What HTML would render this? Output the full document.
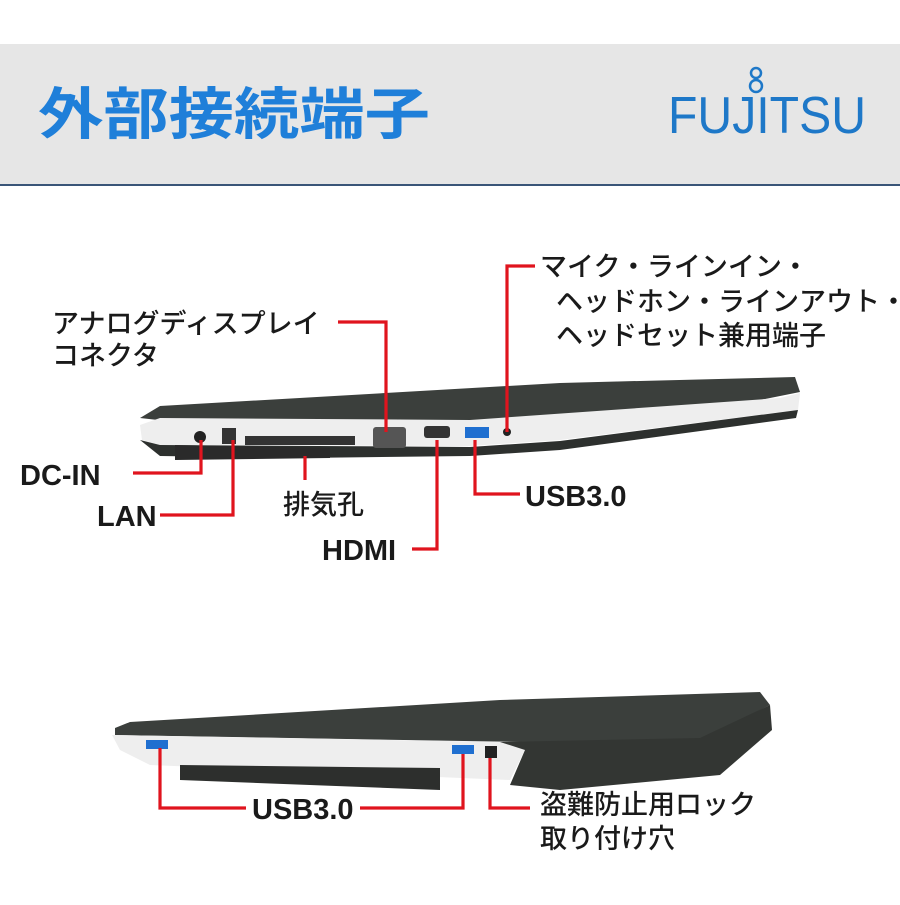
<!DOCTYPE html>
<html><head><meta charset="utf-8"><style>
body{margin:0;background:#fff;width:900px;height:900px;overflow:hidden;font-family:"Liberation Sans","Noto Sans CJK JP",sans-serif}
</style></head><body>
<svg width="900" height="900" viewBox="0 0 900 900" xmlns="http://www.w3.org/2000/svg" font-family="'Liberation Sans','Noto Sans CJK JP',sans-serif">
<rect x="0" y="44" width="900" height="141" fill="#e6e6e6"/>
<rect x="0" y="184" width="900" height="2" fill="#3a5578"/>
<text x="38" y="134" font-size="56" font-weight="bold" fill="#1f7fd9" textLength="392" lengthAdjust="spacingAndGlyphs">外部接続端子</text>
<text x="668" y="133" font-size="52" fill="#1e78c8" textLength="198" lengthAdjust="spacingAndGlyphs">FUJITSU</text>
<g fill="none" stroke="#1e78c8" stroke-width="2.5"><circle cx="756" cy="73" r="5"/><circle cx="756" cy="86" r="6"/></g>

<!-- top laptop -->
<polygon points="140,418 160,406 560,383 795,377 800,392 760,400 560,420 230,428" fill="#3b3f3c"/>
<polygon points="140,425 160,418 470,420 780,398 800,393 798,410 560,440 470,446 160,445 142,440" fill="#eeeeee"/>
<polygon points="140,440 160,445 470,447 560,441 798,410 796,418 560,450 470,456 300,458 160,456" fill="#2d302e"/>
<polygon points="175,445 330,448 330,458 175,460" fill="#2a2a2a"/>
<rect x="245" y="436" width="110" height="9" fill="#333"/>
<rect x="373" y="427" width="33" height="21" rx="3" fill="#555"/>
<rect x="424" y="426" width="26" height="12" rx="3" fill="#333"/>
<rect x="465" y="427" width="24" height="11" fill="#1f6fd0"/>
<circle cx="507" cy="432" r="4" fill="#222"/>
<circle cx="200" cy="437" r="6" fill="#222"/>
<rect x="222" y="428" width="14" height="16" fill="#333"/>

<!-- bottom laptop -->
<polygon points="115,728 130,722 500,700 760,692 770,705 700,740 520,742 115,735" fill="#3b3f3c"/>
<polygon points="112,735 500,742 525,750 510,780 150,765 120,750" fill="#eeeeee"/>
<polygon points="500,742 700,738 770,705 772,730 720,775 560,790 510,785 525,750" fill="#333633"/>
<polygon points="180,765 440,768 440,790 180,780" fill="#2d2f2d"/>
<rect x="146" y="740" width="22" height="9" fill="#1f6fd0"/>
<rect x="452" y="745" width="22" height="9" fill="#1f6fd0"/>
<rect x="485" y="746" width="12" height="12" fill="#222"/>

<g stroke="#e0141e" stroke-width="3.2" fill="none">
<polyline points="338,322 386,322 386,432"/>
<polyline points="535,266 507,266 507,432"/>
<polyline points="133,473 201,473 201,440"/>
<polyline points="160,515 233,515 233,440"/>
<polyline points="305,456 305,480"/>
<polyline points="412,549 437,549 437,440"/>
<polyline points="475,440 475,494 520,494"/>
<polyline points="160,748 160,808 246,808"/>
<polyline points="360,808 463,808 463,754"/>
<polyline points="490,758 490,808 530,808"/>
</g>

<g font-size="27" fill="#1a1a1a">
<text x="540" y="276" font-weight="500">マイク・ラインイン・</text>
<text x="556" y="311" font-weight="500">ヘッドホン・ラインアウト・</text>
<text x="556" y="345" font-weight="500">ヘッドセット兼用端子</text>
<text x="52" y="333" font-weight="500">アナログディスプレイ</text>
<text x="52" y="365" font-weight="500">コネクタ</text>
<text x="20" y="485" font-weight="bold" font-size="29">DC-IN</text>
<text x="97" y="526" font-weight="bold" font-size="29">LAN</text>
<text x="283" y="514" font-weight="500">排気孔</text>
<text x="322" y="560" font-weight="bold" font-size="29">HDMI</text>
<text x="525" y="506" font-weight="bold" font-size="29">USB3.0</text>
<text x="252" y="819" font-weight="bold" font-size="29">USB3.0</text>
<text x="540" y="814" font-weight="500">盗難防止用ロック</text>
<text x="540" y="848" font-weight="500">取り付け穴</text>
</g>
</svg>
</body></html>
